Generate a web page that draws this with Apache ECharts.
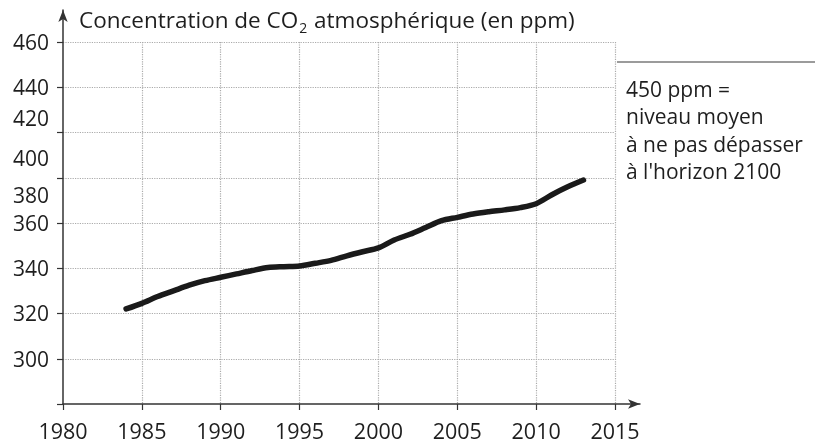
<!DOCTYPE html>
<html>
<head>
<meta charset="utf-8">
<script src="https://cdn.jsdelivr.net/npm/echarts@6/dist/echarts.min.js"></script>
<style>
html,body{margin:0;padding:0;background:#fff;}
#chart{width:815px;height:444px;}
</style>
</head>
<body>
<div id="chart"></div>
<script>
// ---- data ----
var years = [1984,1985,1986,1987,1988,1989,1990,1991,1992,1993,1994,1995,1996,1997,1998,1999,
             2000,2001,2002,2003,2004,2005,2006,2007,2008,2009,2010,2011,2012,2013];
var co2 = [322,324.5,327.5,330,332.5,334.5,336,337.5,339,340.3,340.7,341,342.2,343.5,345.5,347.3,
           349,352.5,355,358,361,362.5,364,365,365.8,366.8,368.5,372.5,376,379];
// y tick values (gridlines) and the text printed next to each one in the reference
var yTickValues = [280,300,320,340,360,380,400,420,440];
var yTickLabels = ['', '300', '320', '340', '360', '{a|400}\n{b|380}', '{c|420}', '440', '460'];
var xTickLabels = ['1980','1985','1990','1995','2000','2005','2010','2015'];
var titleParts = ['Concentration de CO', '2', ' atmosphérique (en ppm)'];
var noteLines = ['450 ppm =', 'niveau moyen', 'à ne pas dépasser', "à l'horizon 2100"];

var FONT = '"Open Sans", "Noto Sans", sans-serif';
var TXT = '#1e1e1e';

var seriesData = years.map(function (y, i) { return [y, co2[i]]; });

var chart = echarts.init(document.getElementById('chart'), null, {renderer: 'canvas'});
var option = {
  backgroundColor: '#ffffff',
  animation: false,
  title: {
    left: 74, top: 3,
    text: '{t|' + titleParts[0] + '}{s|' + titleParts[1] + '}{t|' + titleParts[2] + '}',
    textStyle: {
      fontWeight: 'normal',
      rich: {
        t: {fontFamily: FONT, fontSize: 22.5, fontWeight: 'normal', color: TXT, lineHeight: 28},
        s: {fontFamily: FONT, fontSize: 14, fontWeight: 'normal', color: TXT, padding: [15, 1, 0, 1], lineHeight: 28}
      }
    }
  },
  grid: [
    {left: 63, right: 200, top: 42, bottom: 40, containLabel: false},
    {left: 63, right: 175, top: 10, bottom: 40, containLabel: false}
  ],
  xAxis: [
    {
      gridIndex: 0, type: 'value', min: 1980, max: 2015, interval: 5,
      axisLine: {show: false},
      axisTick: {show: true, length: 6, lineStyle: {color: '#333', width: 1.2}},
      axisLabel: {
        margin: 18, fontFamily: FONT, fontSize: 21.5, color: TXT,
        formatter: function (v) { var i = Math.round((v - 1980) / 5); return xTickLabels[i] || ''; }
      },
      splitLine: {show: true, showMinLine: false, lineStyle: {color: '#ababab', type: 'dotted', width: 1.2}}
    },
    {
      gridIndex: 1, type: 'value', min: 0, max: 1,
      axisLine: {show: true, symbol: ['none', 'arrow'], symbolSize: [7, 12], lineStyle: {color: '#333', width: 1.5}},
      axisTick: {show: false}, axisLabel: {show: false}, splitLine: {show: false}
    }
  ],
  yAxis: [
    {
      gridIndex: 0, type: 'value', min: 280, max: 440, interval: 20,
      axisLine: {show: false},
      axisTick: {show: true, length: 6, lineStyle: {color: '#333', width: 1.2}},
      axisLabel: {
        margin: 14, fontFamily: FONT, fontSize: 21, color: TXT, padding: [4, 0, 0, 0],
        formatter: function (v) { var i = yTickValues.indexOf(v); return i >= 0 ? yTickLabels[i] : ''; },
        rich: {
          a: {fontFamily: FONT, fontSize: 21, color: TXT, lineHeight: 34, padding: [0, 0, 6, 0]},
          b: {fontFamily: FONT, fontSize: 21, color: TXT, lineHeight: 34},
          c: {fontFamily: FONT, fontSize: 21, color: TXT, padding: [0, 0, 28, 0]}
        }
      },
      splitLine: {show: true, showMinLine: false, lineStyle: {color: '#ababab', type: 'dotted', width: 1.2}}
    },
    {
      gridIndex: 1, type: 'value', min: 0, max: 1,
      axisLine: {show: true, symbol: ['none', 'arrow'], symbolSize: [7, 12], lineStyle: {color: '#333', width: 1.5}},
      axisTick: {show: false}, axisLabel: {show: false}, splitLine: {show: false}
    }
  ],
  series: [
    {
      type: 'line', xAxisIndex: 0, yAxisIndex: 0,
      data: seriesData, smooth: 0.3, showSymbol: false,
      lineStyle: {color: '#1a1a1a', width: 5.5, cap: 'round', join: 'round'}
    }
  ],
  graphic: [
    {
      type: 'line', shape: {x1: 617, y1: 62, x2: 815, y2: 62},
      style: {stroke: '#7a7a7a', lineWidth: 1.5}
    },
    {
      type: 'text', left: 626, top: 77,
      style: {
        text: noteLines.join('\n'), fontFamily: FONT, fontSize: 21, lineHeight: 27.5, fill: TXT
      }
    }
  ]
};
chart.setOption(option);
</script>
</body>
</html>
